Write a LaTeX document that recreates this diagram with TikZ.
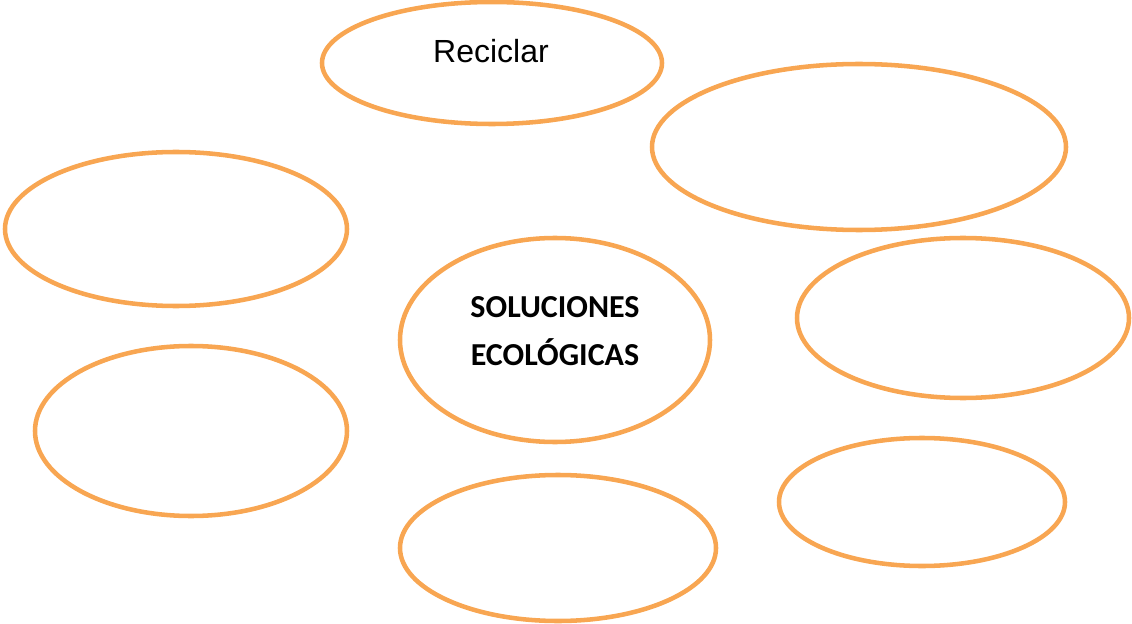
\documentclass[tikz,border=0pt]{standalone}
\usepackage{fontspec}
\setmainfont{Liberation Sans}
\newfontfamily\calibrifont{Carlito}
\usetikzlibrary{positioning}
\definecolor{bubbleorange}{HTML}{F8A652}

\begin{document}
\begin{tikzpicture}[x=0.75pt,y=0.75pt,
  bubble/.style={draw=bubbleorange,line width=3.4pt},
  every node/.style={inner sep=0pt}]
\useasboundingbox (0,0) rectangle (1132,-624);
% ideas around the centre
\draw [bubble] (492,-63) ellipse (170 and 61);
\draw [bubble] (859,-147) ellipse (207 and 83);
\draw [bubble] (176,-229) ellipse (171 and 77);
\draw [bubble] (963,-318) ellipse (166 and 80);
\draw [bubble] (191,-431) ellipse (156 and 85);
\draw [bubble] (922,-502) ellipse (143 and 64);
\draw [bubble] (558,-548) ellipse (158 and 73);
% centre
\draw [bubble] (555,-340) ellipse (155 and 102);
\node (reciclar) [anchor=base,font=\fontsize{24pt}{28pt}\selectfont] at (491,-63) {Reciclar};
\node (soluciones) [align=center,font=\calibrifont\bfseries\fontsize{24pt}{36pt}\selectfont] at (555,-331) {SOLUCIONES\\ECOLÓGICAS};
\end{tikzpicture}
\end{document}
